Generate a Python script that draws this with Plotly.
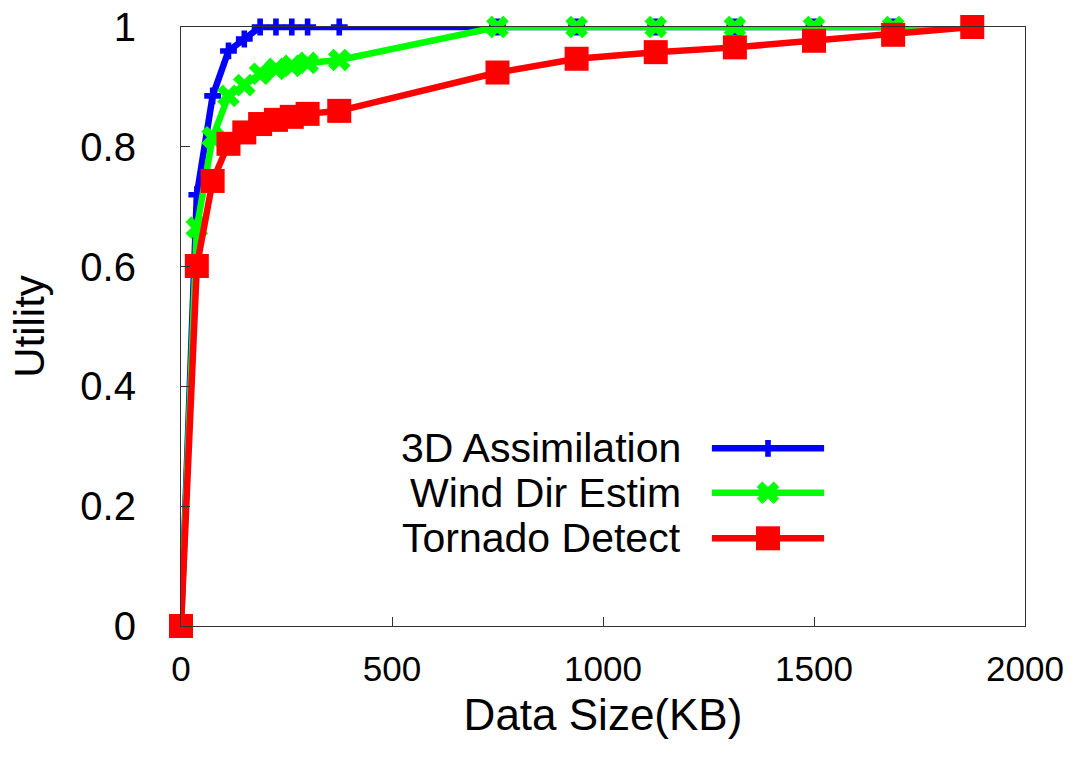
import plotly.graph_objects as go

# ---- data ----
data_size_kb = [0, 37.5, 75, 112.5, 150, 187.5, 225, 262.5, 300, 375,
                750, 937.5, 1125, 1312.5, 1500, 1687.5, 1875]
assim_3d = [0, 0.72, 0.885, 0.96, 0.98, 1.0, 1.0, 1.0, 1.0, 1.0,
            1.0, 1.0, 1.0, 1.0, 1.0, 1.0, 1.0]
wind_dir = [0, 0.665, 0.816, 0.885, 0.903, 0.922, 0.93, 0.935, 0.94, 0.945,
            1.0, 1.0, 1.0, 1.0, 1.0, 1.0, 1.0]
tornado = [0, 0.601, 0.743, 0.805, 0.824, 0.838, 0.845, 0.85, 0.855, 0.86,
           0.924, 0.947, 0.958, 0.966, 0.977, 0.987, 1.0]

series_names = ["3D Assimilation", "Wind Dir Estim", "Tornado Detect"]
series_colors = ["#0000ff", "#00ff00", "#ff0000"]
series_symbols = ["cross", "x", "square"]
series_sizes = [14, 20, 24]

x_ticks = [0, 500, 1000, 1500, 2000]
x_ticktext = ["0", "500", "1000", "1500", "2000"]
y_ticks = [0, 0.2, 0.4, 0.6, 0.8, 1.0]
y_ticktext = ["0", "0.2", "0.4", "0.6", "0.8", "1"]

FONT = "Liberation Sans, Arial, Helvetica, sans-serif"

fig = go.Figure()
for ys, name, col, sym, sz in zip([assim_3d, wind_dir, tornado], series_names,
                                   series_colors, series_symbols, series_sizes):
    fig.add_trace(go.Scatter(
        x=data_size_kb, y=ys, name=name, mode="lines+markers",
        line=dict(color=col, width=6.5),
        marker=dict(symbol=sym, size=sz, color=col, line=dict(width=0)),
        cliponaxis=False, showlegend=False,
    ))

# ---- custom legend (text left, sample on right, like gnuplot) ----
leg_text_x = 0.595
leg_line = [0.629, 0.762]
leg_rows = [0.2967, 0.2225, 0.1464]
for name, col, sym, sz, ry in zip(series_names, series_colors, series_symbols,
                                  series_sizes, leg_rows):
    fig.add_trace(go.Scatter(
        x=leg_line, y=[ry, ry], xaxis="x2", yaxis="y2", mode="lines",
        line=dict(color=col, width=6.5), showlegend=False, hoverinfo="skip"))
    fig.add_trace(go.Scatter(
        x=[(leg_line[0] + leg_line[1]) / 2], y=[ry], xaxis="x2", yaxis="y2",
        mode="markers", marker=dict(symbol=sym, size=sz, color=col, line=dict(width=0)),
        showlegend=False, hoverinfo="skip"))
    fig.add_annotation(x=leg_text_x, y=ry, xref="x2", yref="y2", text=name,
                       showarrow=False, xanchor="right", yanchor="middle",
                       font=dict(family=FONT, size=41, color="black"))

fig.update_layout(
    width=1085, height=758,
    margin=dict(l=181, r=60, t=27, b=132),
    paper_bgcolor="white", plot_bgcolor="white",
    font=dict(family=FONT, color="black"),
    xaxis=dict(range=[0, 2000], tickvals=x_ticks, ticktext=x_ticktext,
               ticks="inside", ticklen=9, tickwidth=1, tickcolor="#333",
               showline=True, linecolor="#333", linewidth=1.2, mirror=True,
               showgrid=False, zeroline=False, ticklabeloverflow="allow",
               automargin=False,
               tickfont=dict(family=FONT, size=35), ticklabelstandoff=12,
               title=dict(text="Data Size(KB)", font=dict(family=FONT, size=44),
                          standoff=12)),
    yaxis=dict(range=[0, 1], tickvals=y_ticks, ticktext=y_ticktext,
               ticks="inside", ticklen=9, tickwidth=1, tickcolor="#333",
               showline=True, linecolor="#333", linewidth=1.2, mirror=True,
               showgrid=False, zeroline=False, ticklabeloverflow="allow",
               automargin=False,
               tickfont=dict(family=FONT, size=40), ticklabelstandoff=36,
               title=dict(text="Utility", font=dict(family=FONT, size=42),
                          standoff=22)),
    xaxis2=dict(range=[0, 1], overlaying="x", visible=False, fixedrange=True),
    yaxis2=dict(range=[0, 1], overlaying="y", visible=False, fixedrange=True),
)

fig.write_html("out.html", config={"displayModeBar": False},
               post_script="document.body.style.margin='0';document.body.style.overflow='hidden';")
